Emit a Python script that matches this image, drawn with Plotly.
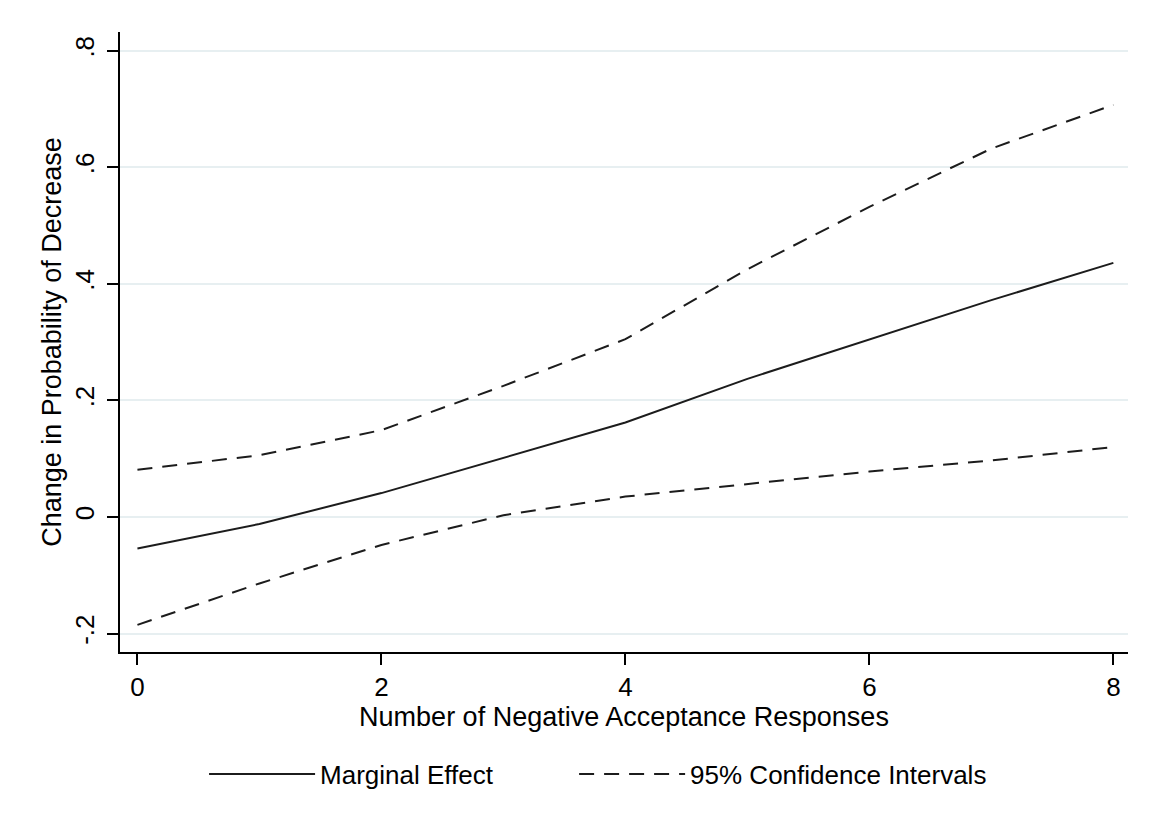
import plotly.graph_objects as go

# Number of negative acceptance responses
responses = [0, 1, 2, 3, 4, 5, 6, 7, 8]
# Marginal effect on the probability of a decrease
marginal_effect = [-0.054, -0.012, 0.041, 0.102, 0.162, 0.237, 0.304, 0.372, 0.436]
# 95% confidence bounds
ci_upper = [0.081, 0.106, 0.149, 0.225, 0.305, 0.425, 0.532, 0.632, 0.707]
ci_lower = [-0.185, -0.114, -0.048, 0.003, 0.035, 0.057, 0.078, 0.097, 0.120]

y_tickvals = [-0.2, 0, 0.2, 0.4, 0.6, 0.8]
y_ticktext = ["-.2", "0", ".2", ".4", ".6", ".8"]
x_tickvals = [0, 2, 4, 6, 8]

FONT = "Liberation Sans, Arial, Helvetica, sans-serif"
INK = "#1c1c1c"
DASH = "15px,10px"

fig = go.Figure()

fig.add_trace(go.Scatter(
    x=responses, y=marginal_effect, mode="lines",
    name="Marginal Effect", legend="legend", showlegend=True,
    line=dict(color=INK, width=2),
))
fig.add_trace(go.Scatter(
    x=responses, y=ci_upper, mode="lines",
    name="95% Confidence Intervals", legendgroup="ci", legend="legend2",
    showlegend=True,
    line=dict(color=INK, width=2, dash=DASH),
))
fig.add_trace(go.Scatter(
    x=responses, y=ci_lower, mode="lines",
    name="95% Confidence Intervals", legendgroup="ci", legend="legend2",
    showlegend=False,
    line=dict(color=INK, width=2, dash=DASH),
))

# reference line at zero
fig.add_hline(y=0, line=dict(color="#8f8f8f", width=1.5), layer="below")

legend_style = dict(
    orientation="h", y=-0.197, yanchor="middle", xanchor="left",
    font=dict(size=26), itemwidth=106, bgcolor="rgba(0,0,0,0)",
)

fig.update_layout(
    width=1151, height=836,
    margin=dict(l=120, r=23, t=32, b=184),
    paper_bgcolor="white", plot_bgcolor="white",
    font=dict(family=FONT, size=26, color="black"),
    showlegend=True,
    legend=dict(x=0.0834, **legend_style),
    legend2=dict(x=0.4505, **legend_style),
    xaxis=dict(
        range=[-0.143, 8.12], tickvals=x_tickvals,
        showline=True, linecolor="black", linewidth=1.5,
        ticks="outside", ticklen=11, tickwidth=1.5, tickcolor="black",
        showgrid=False, zeroline=False, tickfont=dict(size=26),
        title=dict(text="Number of Negative Acceptance Responses", standoff=4,
                   font=dict(size=27)),
    ),
    yaxis=dict(
        range=[-0.2316, 0.832], tickvals=y_tickvals, ticktext=y_ticktext,
        tickangle=-90, tickfont=dict(size=26), ticklabelstandoff=3,
        showline=True, linecolor="black", linewidth=1.5,
        ticks="outside", ticklen=11, tickwidth=1.5, tickcolor="black",
        showgrid=True, gridcolor="#e7eff1", gridwidth=1.5, zeroline=False,
        title=dict(text="Change in Probability of Decrease", standoff=0,
                   font=dict(size=27)),
    ),
)

fig.write_html("out.html")
